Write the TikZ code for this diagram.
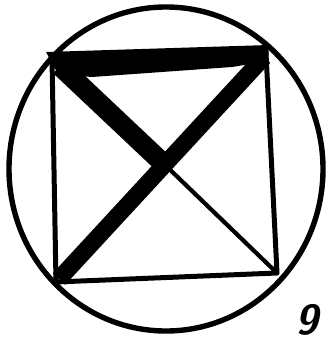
\documentclass[tikz,border=0pt]{standalone}
\usepackage{tikz}
\usetikzlibrary{calc}
\tikzset{
  ring/.style={draw=black, line width=5.4pt},
  thinline/.style={draw=black, line width=#1, line cap=round, line join=round},
  heavy/.style={draw=black, line width=#1, line cap=butt, line join=round},
  numlabel/.style={font=\fontsize{42}{42}\selectfont\sffamily\bfseries\slshape, inner sep=0pt},
}

\begin{document}
\begin{tikzpicture}[x=1pt, y=-1pt]
\useasboundingbox (0,0) rectangle (332,342);
% outer ring
\draw[ring] (166,169) ellipse [x radius=157, y radius=162];
% corners of the square
\coordinate (tl) at (52,58);
\coordinate (tr) at (266,53);
\coordinate (br) at (277,273);
\coordinate (bl) at (56,282);
\coordinate (mid) at (161,161);
% thin sides
\draw[thinline=5pt] (tl) -- (bl) -- (br) -- (tr);
\draw[thinline=4.2pt] (mid) -- (br);
% heavy strokes
\draw[heavy=17pt] ($(tr)+(-2,4)$) -- ($(bl)+(3,-3)$);
\draw[heavy=20pt] ($(mid)+(6,6)$) -- ($(tl)+(8,8)$);
\fill[black] (46,52) -- (269,45) -- (268,61) -- (232,67) -- (92,77) -- (58,74) -- cycle;
% figure number
\node[numlabel] (num) at (307,320) {9};
\end{tikzpicture}
\end{document}
